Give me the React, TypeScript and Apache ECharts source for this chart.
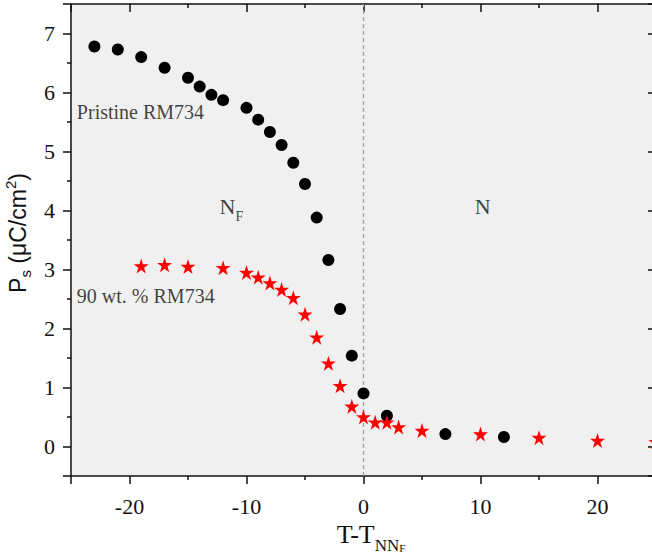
import React, { useEffect, useRef } from "react";
import * as echarts from "echarts";

// Pristine RM734 (black circles)
const pristineX = [-23, -21, -19, -17, -15, -14, -13, -12, -10, -9, -8, -7, -6, -5, -4, -3, -2, -1, 0, 2, 7, 12];
const pristineY = [6.78, 6.73, 6.6, 6.42, 6.25, 6.1, 5.96, 5.87, 5.74, 5.54, 5.33, 5.11, 4.81, 4.45, 3.88, 3.16, 2.33, 1.54, 0.9, 0.52, 0.21, 0.16];

// 90 wt. % RM734 (red stars)
const mixX = [-19, -17, -15, -12, -10, -9, -8, -7, -6, -5, -4, -3, -2, -1, 0, 1, 2, 3, 5, 10, 15, 20, 25];
const mixY = [3.06, 3.08, 3.05, 3.03, 2.95, 2.87, 2.77, 2.66, 2.52, 2.24, 1.85, 1.41, 1.03, 0.68, 0.5, 0.41, 0.41, 0.33, 0.27, 0.21, 0.15, 0.1, 0.08];

// annotations
const annotations = [
  { x: -24.5, y: 5.67, text: "Pristine RM734" },
  { x: -24.5, y: 2.55, text: "90 wt. % RM734" },
  { x: -12.3, y: 4.07, text: "{n|N}{f|F}" },
  { x: 9.5, y: 4.07, text: "{n|N}" },
];

const X_MIN = -25;
const X_MAX = 25;
const Y_MIN = -0.5;
const Y_MAX = 7.5;

const STAR =
  "path://M50 0 L61.2 34.5 L97.6 34.5 L68.2 55.9 L79.4 90.5 L50 69.1 L20.6 90.5 L31.8 55.9 L2.4 34.5 L38.8 34.5 Z";

const SERIF = "Liberation Serif, Times New Roman, serif";
const SANS = "Liberation Sans, Arial, sans-serif";
const AX = "#111";

export default function App() {
  const ref = useRef<HTMLDivElement>(null);

  useEffect(() => {
    if (!ref.current) return;
    const chart = echarts.init(ref.current, undefined, { renderer: "svg" });

    const axisCommon = (isX: boolean, main: boolean) => ({
      type: "value" as const,
      min: isX ? X_MIN : Y_MIN,
      max: isX ? X_MAX : Y_MAX,
      splitNumber: isX ? 5 : 8,
      axisLine: { show: true, onZero: false, lineStyle: { color: AX, width: 1.5 } },
      axisTick: { show: true, inside: !main, length: 8, lineStyle: { color: AX, width: 1.5 } },
      minorTick: { show: true, splitNumber: 2, length: 4, lineStyle: { color: AX, width: 1.5 } },
      splitLine: { show: false },
      minorSplitLine: { show: false },
      axisLabel: main
        ? {
            show: true,
            fontFamily: SERIF,
            fontSize: 22,
            color: "#111",
            margin: isX ? 19 : 16,
            showMinLabel: false,
            showMaxLabel: false,
            formatter: (v: number) => {
              if (isX) return Math.abs(v % 10) < 1e-9 ? String(v) : "";
              return Math.abs(v - Math.round(v)) < 1e-9 ? String(v) : "";
            },
          }
        : { show: false },
    });

    const option: any = {
      animation: false,
      backgroundColor: "#ffffff",
      textStyle: { fontFamily: SERIF },
      grid: {
        left: 71,
        right: -4,
        top: 4,
        bottom: 78,
        show: true,
        backgroundColor: "#f0f0f0",
        borderWidth: 0,
        containLabel: false,
        outerBoundsMode: "none",
      },
      xAxis: [
        {
          ...axisCommon(true, true),
          position: "bottom",
          name: "{m|T-T}{s|NN}{f|F}",
          nameLocation: "middle",
          nameGap: 29,
          nameTextStyle: {
            padding: [0, 0, 0, 15],
            rich: {
              m: { fontFamily: SERIF, fontSize: 26, lineHeight: 38, color: "#111" },
              s: { fontFamily: SERIF, fontSize: 17, lineHeight: 17, verticalAlign: "bottom", color: "#111" },
              f: { fontFamily: SERIF, fontSize: 11, lineHeight: 11, verticalAlign: "bottom", color: "#111" },
            },
          },
        },
        { ...axisCommon(true, false), position: "top" },
      ],
      yAxis: [
        {
          ...axisCommon(false, true),
          position: "left",
          name: "{m|P}{s|s}{m| (μC/cm}{p|2}{m|)}",
          nameLocation: "middle",
          nameGap: 37,
          nameTextStyle: {
            padding: [0, 0, 0, 14],
            rich: {
              m: { fontFamily: SANS, fontSize: 23, lineHeight: 30, color: "#111" },
              s: { fontFamily: SANS, fontSize: 15, lineHeight: 15, verticalAlign: "bottom", color: "#111" },
              p: { fontFamily: SANS, fontSize: 15, lineHeight: 15, verticalAlign: "top", color: "#111" },
            },
          },
        },
        { ...axisCommon(false, false), position: "right" },
      ],
      series: [
        {
          name: "Pristine RM734",
          type: "scatter",
          xAxisIndex: 0,
          yAxisIndex: 0,
          symbol: "circle",
          symbolSize: 12,
          clip: false,
          itemStyle: { color: "#000000", opacity: 1 },
          data: pristineX.map((x, i) => [x, pristineY[i]]),
          z: 4,
          markLine: {
            silent: true,
            symbol: ["none", "none"],
            label: { show: false },
            lineStyle: { type: [4, 3], color: "#a0a0a0", width: 1.3 },
            data: [{ xAxis: 0 }],
            z: 1,
          },
        },
        {
          name: "90 wt. % RM734",
          type: "scatter",
          xAxisIndex: 0,
          yAxisIndex: 0,
          symbol: STAR,
          symbolSize: 15,
          clip: false,
          itemStyle: { color: "#ff0000", opacity: 1 },
          data: mixX.map((x, i) => [x, mixY[i]]),
          z: 5,
        },
        {
          name: "annotations",
          type: "scatter",
          xAxisIndex: 0,
          yAxisIndex: 0,
          symbol: "circle",
          symbolSize: 0,
          silent: true,
          data: annotations.map((a) => ({
            value: [a.x, a.y],
            label: {
              show: true,
              position: "right",
              distance: 0,
              formatter: a.text,
            },
          })),
          label: {
            fontFamily: SERIF,
            fontSize: 20,
            color: "#111",
            rich: {
              n: { fontFamily: SERIF, fontSize: 22, lineHeight: 34, color: "#111" },
              f: { fontFamily: SERIF, fontSize: 14, lineHeight: 14, verticalAlign: "bottom", color: "#111" },
            },
          },
          z: 3,
        },
      ],
    };

    chart.setOption(option);
    return () => chart.dispose();
  }, []);

  return (
    <div
      ref={ref}
      style={{ position: "absolute", left: 0, top: 0, width: 652, height: 554, overflow: "hidden" }}
    />
  );
}
